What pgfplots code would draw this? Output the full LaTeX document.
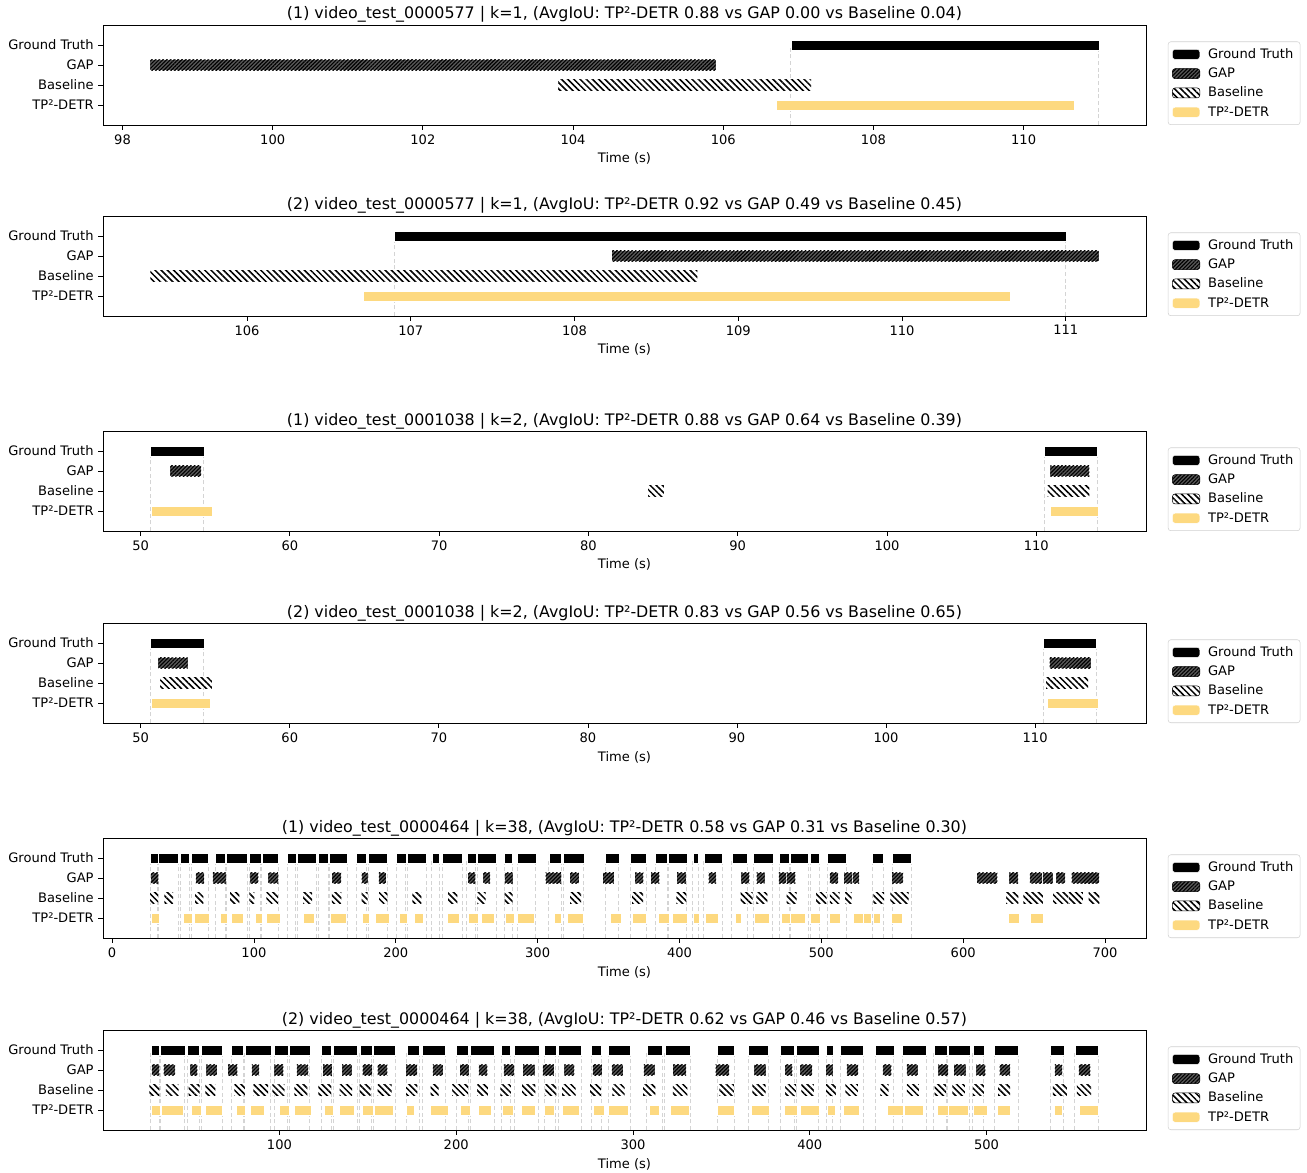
\documentclass[border=0pt]{standalone}
\usepackage{pgfplots}
\pgfplotsset{compat=1.18}
\usepackage{pgfplotstable}
\usepackage{fontspec}
\setmainfont{DejaVu Sans}
\usetikzlibrary{patterns.meta}
\definecolor{tpcol}{RGB}{253,217,128}
\definecolor{vcol}{RGB}{212,212,212}
\tikzset{
 gtbar/.style={fill=black, draw=white, line width=0.3pt},
 gapbar/.style={preaction={fill=black!65}, pattern={Lines[angle=45,distance=2pt,line width=0.85pt]}, pattern color=black, draw=none},
 basebar/.style={preaction={fill=white}, pattern={Lines[angle=-45,distance=3.3pt,line width=1.15pt]}, pattern color=black, draw=none},
 tpbar/.style={fill=tpcol, draw=white, line width=0.3pt},
 vline/.style={draw=vcol, line width=0.7pt, dash pattern=on 3pt off 2pt},
}
\pgfplotsset{leg/.style={legend image code/.code={\path[#1] (0pt,-3.75pt) rectangle (20.5pt,3.75pt);}}}
\newcommand\tickfont{\fontsize{9.8}{11}\selectfont}
\pgfplotsset{panel/.style={
 scale only axis, width=782.25pt, height=75pt, anchor=north west,
 ymin=-1, ymax=4, ytick={0,1,2,3}, yticklabels={TP²-DETR,Baseline,GAP,Ground Truth},
 tick pos=left, tick align=outside, major tick length=3.5pt,
 tick label style={font=\tickfont},
 /pgf/number format/assume math mode=true,
 xlabel={Time (s)}, xlabel style={font=\tickfont, at={(axis description cs:0.5,0)}, anchor=base, yshift=-28.5pt},
 title style={font=\fontsize{11.9}{14}\selectfont, at={(axis description cs:0.5,1)}, anchor=base, yshift=-1.5pt},
 axis line style={line width=0.6pt},
 every tick/.style={black, line width=0.6pt},
 legend cell align=left,
 legend style={at={(1.021,0)}, anchor=south west, draw=black!18, rounded corners=2pt, font=\tickfont, inner sep=3pt, row sep=1.6pt, /tikz/every odd column/.append style={column sep=4pt}},
}}

\newcommand\segs[4]{%
  \pgfplotstablegetrowsof{#1}%
  \pgfmathtruncatemacro\nr{\pgfplotsretval-1}%
  \pgfplotsforeachungrouped \ii in {0,...,\nr}{%
    \pgfplotstablegetelem{\ii}{s}\of{#1}\let\sA\pgfplotsretval
    \pgfplotstablegetelem{\ii}{e}\of{#1}\let\sB\pgfplotsretval
    \edef\tmp{\noexpand\addplot[#4,forget plot] coordinates {(\sA,#2) (\sB,#2) (\sB,#3) (\sA,#3)} -- cycle;}\tmp
  }%
}
\newcommand\vlines[1]{%
  \pgfplotstablegetrowsof{#1}%
  \pgfmathtruncatemacro\nr{\pgfplotsretval-1}%
  \pgfplotsforeachungrouped \ii in {0,...,\nr}{%
    \pgfplotstablegetelem{\ii}{s}\of{#1}\let\sA\pgfplotsretval
    \pgfplotstablegetelem{\ii}{e}\of{#1}\let\sB\pgfplotsretval
    \edef\tmp{\noexpand\addplot[vline,forget plot] coordinates {(\sA,-1) (\sA,3)};\noexpand\addplot[vline,forget plot] coordinates {(\sB,-1) (\sB,3)};}\tmp
  }%
}
\newcommand\drawpanel[4]{%
  \vlines{#1}%
  \segs{#1}{2.74}{3.26}{gtbar}%
  \segs{#2}{1.74}{2.26}{gapbar}%
  \segs{#3}{0.74}{1.26}{basebar}%
  \segs{#4}{-0.26}{0.26}{tpbar}%
  \addlegendimage{leg=gtbar}\addlegendentry{Ground Truth}%
  \addlegendimage{leg=gapbar}\addlegendentry{GAP}%
  \addlegendimage{leg=basebar}\addlegendentry{Baseline}%
  \addlegendimage{leg=tpbar}\addlegendentry{TP²-DETR}%
}

% ---------- data: video_test_0000577 ----------
\pgfplotstableread{
s e
106.9 111.0
}\gtA
\pgfplotstableread{
s e
98.37 105.9
}\gapAa
\pgfplotstableread{
s e
103.8 107.17
}\baseAa
\pgfplotstableread{
s e
106.71 110.68
}\tpAa
\pgfplotstableread{
s e
108.23 111.2
}\gapAb
\pgfplotstableread{
s e
105.41 108.75
}\baseAb
\pgfplotstableread{
s e
106.71 110.66
}\tpAb
% ---------- data: video_test_0001038 ----------
\pgfplotstableread{
s e
50.66 54.23
110.53 114.11
}\gtB
\pgfplotstableread{
s e
52.0 54.06
110.94 113.55
}\gapBa
\pgfplotstableread{
s e
84.0 85.06
110.76 113.55
}\baseBa
\pgfplotstableread{
s e
50.72 54.78
110.91 114.15
}\tpBa
\pgfplotstableread{
s e
51.18 53.14
110.98 113.73
}\gapBb
\pgfplotstableread{
s e
51.3 54.78
110.74 113.55
}\baseBb
\pgfplotstableread{
s e
50.7 54.66
110.82 114.26
}\tpBb
% ---------- data: video_test_0000464 ----------
\pgfplotstableread{
s e
27.2 32.2
32.7 46.5
48.0 54.5
55.8 67.9
73.0 79.7
80.4 95.2
97.0 104.8
105.6 117.2
123.7 129.5
130.5 144.0
145.5 152.2
153.1 165.6
172.1 179.3
180.7 194.0
200.2 207.0
207.9 221.6
225.4 230.8
232.8 246.7
250.0 256.4
257.6 270.7
276.5 282.3
285.9 298.7
307.9 316.5
318.0 332.5
347.9 357.3
365.2 376.4
383.2 391.2
392.3 405.1
409.5 413.1
417.1 430.2
437.0 447.6
452.2 465.8
470.2 477.5
478.1 490.6
492.2 498.5
504.3 517.8
536.2 543.7
550.0 563.3
}\gtC
\pgfplotstableread{
s e
27.5 32.7
59.0 64.9
71.0 80.4
97.5 103.1
110.2 117.2
155.1 161.4
176.0 180.2
188.0 193.1
251.0 256.1
261.7 266.5
277.0 282.4
305.7 316.5
322.9 329.0
346.1 353.7
368.7 374.5
380.0 385.8
398.3 404.6
420.6 425.8
443.6 449.3
454.4 460.1
470.0 475.1
475.6 481.7
506.1 511.8
516.0 521.7
522.1 526.6
550.0 557.6
609.8 624.1
632.5 638.7
647.1 655.4
656.1 663.1
665.7 671.8
676.5 695.8
}\gapCa
\pgfplotstableread{
s e
26.8 32.4
36.9 43.0
58.5 64.4
83.2 89.7
96.8 100.3
108.8 116.8
134.6 141.0
154.9 161.6
176.0 180.2
188.2 194.1
211.7 218.0
236.9 243.4
257.5 263.4
276.8 282.4
322.9 330.6
366.6 374.3
397.8 404.8
443.1 451.6
454.2 461.9
475.6 482.6
496.3 503.8
506.1 512.9
516.7 521.4
536.7 544.2
548.6 561.5
630.2 638.9
642.4 656.1
663.5 674.1
674.6 684.3
688.5 696.0
}\baseCa
\pgfplotstableread{
s e
27.7 33.1
49.8 56.6
58.0 68.2
75.9 81.5
83.9 92.1
100.8 106.0
109.0 118.4
134.4 142.4
153.7 165.0
176.5 181.2
185.4 195.5
202.3 208.2
212.9 219.4
236.6 244.6
251.4 258.2
260.1 269.3
277.2 283.2
285.7 297.3
311.8 316.7
321.2 331.8
351.0 359.0
366.6 376.4
385.1 392.6
394.9 405.5
409.6 413.6
418.2 427.4
439.4 443.2
452.8 463.3
471.6 477.9
477.9 488.3
492.0 499.3
505.4 513.2
522.6 529.2
529.6 535.5
536.9 541.8
549.6 557.1
631.4 639.6
647.3 656.5
}\tpCa
\pgfplotstableread{
s e
27.8 32.1
34.5 41.0
49.6 53.6
58.7 64.6
71.0 76.2
84.4 88.5
97.2 102.3
109.8 116.4
124.7 129.6
135.5 140.9
147.1 152.5
155.6 161.1
171.7 177.9
186.8 192.4
202.2 207.1
212.8 217.7
226.9 232.8
237.9 244.4
249.0 255.2
261.2 266.9
277.3 282.4
288.0 294.3
306.1 312.2
322.7 330.0
346.7 354.4
368.7 375.0
386.1 390.1
394.6 401.4
409.3 413.1
421.0 427.4
441.4 446.1
454.9 461.0
472.8 478.3
481.7 488.1
494.2 499.3
507.4 513.4
538.7 542.9
552.2 558.7
}\gapCb
\pgfplotstableread{
s e
26.4 32.1
35.7 43.0
48.7 54.9
58.1 63.8
74.5 80.4
85.3 93.6
96.0 103.0
108.5 115.8
122.1 129.2
134.1 141.1
145.4 151.6
155.6 163.4
171.7 178.1
185.6 190.1
197.7 206.8
211.9 217.9
225.0 230.9
237.3 244.8
250.5 256.7
259.9 267.5
275.8 281.8
288.4 295.3
305.8 312.7
322.5 330.7
348.8 357.1
367.6 375.0
386.1 392.3
395.2 402.3
409.3 414.7
420.2 427.2
440.0 444.6
454.9 461.7
470.6 477.2
480.6 487.8
492.3 498.5
506.6 513.4
537.5 545.4
551.1 559.2
}\baseCb
\pgfplotstableread{
s e
27.4 32.5
32.9 45.3
50.2 55.7
58.1 67.4
75.5 80.8
83.4 91.5
100.0 105.5
108.5 118.1
125.6 130.6
133.9 142.3
147.0 153.2
153.7 164.5
171.7 176.4
185.4 195.4
202.4 207.9
212.6 219.8
225.8 232.0
236.9 244.8
249.9 255.2
260.1 269.7
277.6 283.5
286.1 297.5
309.0 314.6
321.0 332.0
347.4 357.1
366.8 377.0
385.3 392.9
394.4 405.3
409.8 414.4
418.7 427.8
443.6 452.7
453.4 464.0
471.9 478.1
478.1 489.4
492.7 500.2
506.1 513.6
538.1 542.9
552.2 563.0
}\tpCb

\begin{document}
\begin{tikzpicture}
\useasboundingbox (0,0) rectangle (980.25pt,-879.75pt);
% panel 1
\begin{axis}[panel, at={(77.25pt,-18.75pt)}, xmin=97.74, xmax=111.63, xtick={98,100,...,110},
 title={(1) video\_test\_0000577 | k=1, (AvgIoU: TP²-DETR 0.88 vs GAP 0.00 vs Baseline 0.04)}]
\drawpanel{\gtA}{\gapAa}{\baseAa}{\tpAa}
\end{axis}
% panel 2
\begin{axis}[panel, at={(77.25pt,-162pt)}, xmin=105.12, xmax=111.49, xtick={106,107,...,111},
 title={(2) video\_test\_0000577 | k=1, (AvgIoU: TP²-DETR 0.92 vs GAP 0.49 vs Baseline 0.45)}]
\drawpanel{\gtA}{\gapAb}{\baseAb}{\tpAb}
\end{axis}
% panel 3
\begin{axis}[panel, at={(77.25pt,-323.25pt)}, xmin=47.48, xmax=117.35, xtick={50,60,...,110},
 title={(1) video\_test\_0001038 | k=2, (AvgIoU: TP²-DETR 0.88 vs GAP 0.64 vs Baseline 0.39)}]
\drawpanel{\gtB}{\gapBa}{\baseBa}{\tpBa}
\end{axis}
% panel 4
\begin{axis}[panel, at={(77.25pt,-467.25pt)}, xmin=47.47, xmax=117.44, xtick={50,60,...,110},
 title={(2) video\_test\_0001038 | k=2, (AvgIoU: TP²-DETR 0.83 vs GAP 0.56 vs Baseline 0.65)}]
\drawpanel{\gtB}{\gapBb}{\baseBb}{\tpBb}
\end{axis}
% panel 5
\begin{axis}[panel, at={(77.25pt,-628.5pt)}, xmin=-6.4, xmax=728.9, xtick={0,100,...,700},
 title={(1) video\_test\_0000464 | k=38, (AvgIoU: TP²-DETR 0.58 vs GAP 0.31 vs Baseline 0.30)}]
\drawpanel{\gtC}{\gapCa}{\baseCa}{\tpCa}
\end{axis}
% panel 6
\begin{axis}[panel, at={(77.25pt,-772.5pt)}, xmin=0.2, xmax=590.2, xtick={100,200,...,500},
 title={(2) video\_test\_0000464 | k=38, (AvgIoU: TP²-DETR 0.62 vs GAP 0.46 vs Baseline 0.57)}]
\drawpanel{\gtC}{\gapCb}{\baseCb}{\tpCb}
\end{axis}
\end{tikzpicture}
\end{document}
